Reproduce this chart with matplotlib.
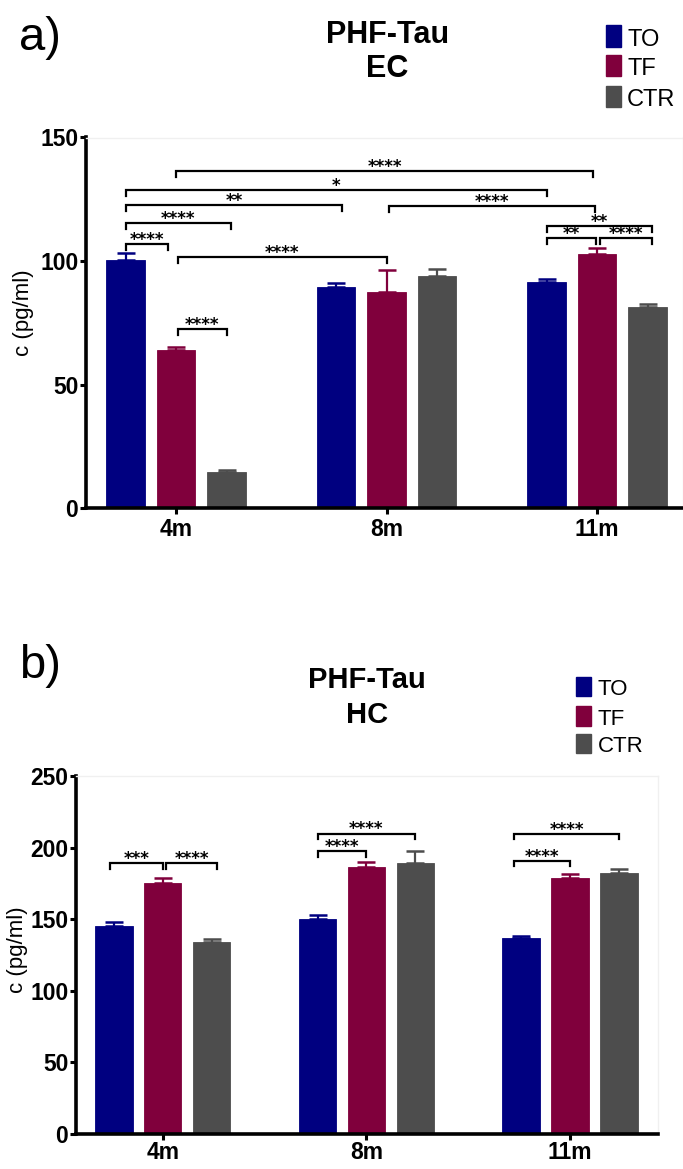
import numpy as np
import matplotlib
matplotlib.use("Agg")
import matplotlib.pyplot as plt
from matplotlib.patches import Rectangle

plt.rcParams['font.family'] = ['Liberation Sans', 'DejaVu Sans']

# ---------------- data ----------------
groups = ["4m", "8m", "11m"]
series = ["TO", "TF", "CTR"]

# Panel a) PHF-Tau EC
ec_to = [100.5, 89.3, 91.5]
ec_tf = [64.0, 87.4, 102.8]
ec_ctr = [14.4, 93.9, 81.3]
ec_to_sem = [2.6, 1.6, 1.2]
ec_tf_sem = [1.2, 9.0, 2.6]
ec_ctr_sem = [1.0, 3.0, 1.4]

# Panel b) PHF-Tau HC
hc_to = [145.6, 149.8, 137.2]
hc_tf = [175.0, 186.6, 178.8]
hc_ctr = [134.0, 188.9, 182.2]
hc_to_sem = [2.6, 3.4, 1.4]
hc_tf_sem = [3.8, 3.0, 2.7]
hc_ctr_sem = [2.1, 8.4, 2.6]

# significance comparisons: (group_a, series_a, group_b, series_b, level, label)
ec_comparisons = [
    (0, 0, 0, 1, 107.0, "****"),
    (0, 0, 0, 2, 115.3, "****"),
    (0, 0, 1, 0, 122.7, "**"),
    (0, 0, 2, 0, 128.7, "*"),
    (0, 1, 2, 1, 136.4, "****"),
    (1, 1, 2, 1, 122.1, "****"),
    (0, 1, 1, 1, 101.7, "****"),
    (0, 1, 0, 2, 72.6, "****"),
    (2, 0, 2, 1, 109.3, "**"),
    (2, 1, 2, 2, 109.3, "****"),
    (2, 0, 2, 2, 114.1, "**"),
]
hc_comparisons = [
    (0, 0, 0, 1, 189.0, "***"),
    (0, 1, 0, 2, 189.0, "****"),
    (1, 0, 1, 1, 197.3, "****"),
    (1, 0, 1, 2, 209.8, "****"),
    (2, 0, 2, 1, 190.6, "****"),
    (2, 0, 2, 2, 209.4, "****"),
]

# ---------------- style ----------------
colors = ["#000080", "#80003C", "#4D4D4D"]
offsets = [-0.24, 0.0, 0.24]
bar_w = 0.184
# small horizontal nudges of bracket ends where two brackets meet
ec_nudge = [(0, -0.04), (0, 0.02), (0, 0.03), (0, 0), (0, -0.02), (0.01, -0.01),
            (0.01, 0), (0.01, 0), (0, -0.005), (0.012, 0.02), (0, 0.02)]
hc_nudge = [(-0.017, 0.0), (0.015, 0.028), (0, 0), (0, 0), (-0.034, 0.0), (-0.034, 0.0)]

W, H = 683, 1169
fig = plt.figure(figsize=(W / 100, H / 100), dpi=100)


def fx(px):
    return px / W


def fy(py):
    return 1 - py / H


ax1 = fig.add_axes([fx(86), fy(508), fx(683) - fx(86), fy(137.5) - fy(508)])
ax2 = fig.add_axes([fx(76), fy(1134), fx(658) - fx(76), fy(776) - fy(1134)])


def draw_panel(ax, means, sems, comps, nudges, ymax, ystep, xlim, drop, xpad):
    x0 = np.arange(len(groups))
    for s in range(len(series)):
        x = x0 + offsets[s]
        ax.bar(x, means[s], bar_w, color=colors[s], zorder=2,
               edgecolor=colors[s], linewidth=0.6)
        ax.errorbar(x, means[s], yerr=[np.zeros(len(groups)), sems[s]],
                    fmt='none', ecolor=colors[s], elinewidth=1.6,
                    capsize=6.5, capthick=1.8, zorder=3)
    for (ga, sa, gb, sb, lev, lab), (da, db) in zip(comps, nudges):
        xa = ga + offsets[sa] + da
        xb = gb + offsets[sb] + db
        ax.plot([xa, xa, xb, xb], [lev - drop, lev, lev, lev - drop],
                color='black', lw=1.6, solid_joinstyle='miter', zorder=4,
                clip_on=False)
        ax.annotate(lab, ((xa + xb) / 2, lev), xytext=(0, -0.6),
                    textcoords='offset points', ha='center', va='baseline',
                    fontsize=12, fontweight='bold', family=['DejaVu Sans'],
                    zorder=5)
    ax.set_xlim(*xlim)
    ax.set_ylim(0, ymax)
    ax.set_yticks(np.arange(0, ymax + 1, ystep))
    ax.set_xticks(x0)
    ax.set_xticklabels(groups)
    for lbl in ax.get_xticklabels() + ax.get_yticklabels():
        lbl.set_fontweight('bold')
        lbl.set_fontsize(16.5)
    ax.tick_params(axis='y', length=4.5, width=2.2, pad=1.0)
    ax.tick_params(axis='x', length=4.0, width=2.2, pad=xpad)
    for sp in ['left', 'bottom']:
        ax.spines[sp].set_linewidth(2.6)
    for sp in ['top', 'right']:
        ax.spines[sp].set_linewidth(1.0)
        ax.spines[sp].set_color('#f0f0f0')
    ax.patch.set_alpha(0)


draw_panel(ax1, [ec_to, ec_tf, ec_ctr], [ec_to_sem, ec_tf_sem, ec_ctr_sem],
           ec_comparisons, ec_nudge, 150, 50, (-0.428, 2.408), 2.4, 3.0)
draw_panel(ax2, [hc_to, hc_tf, hc_ctr], [hc_to_sem, hc_tf_sem, hc_ctr_sem],
           hc_comparisons, hc_nudge, 250, 50, (-0.426, 2.432), 3.6, 1.0)

# y labels
fig.text(fx(24), fy(313), "c (pg/ml)", rotation=90, ha='center', va='center', fontsize=16)
fig.text(fx(17.5), fy(950), "c (pg/ml)", rotation=90, ha='center', va='center', fontsize=16)

# panel letters
fig.text(fx(19), fy(50), "a)", fontsize=34, ha='left', va='baseline')
fig.text(fx(19), fy(678), "b)", fontsize=34, ha='left', va='baseline')

# titles
fig.text(fx(387.5), fy(43.3), "PHF-Tau", fontsize=22, fontweight='bold', ha='center', va='baseline')
fig.text(fx(387.5), fy(76.7), "EC", fontsize=22, fontweight='bold', ha='center', va='baseline')
fig.text(fx(367), fy(688.3), "PHF-Tau", fontsize=21, fontweight='bold', ha='center', va='baseline')
fig.text(fx(367), fy(723.3), "HC", fontsize=21, fontweight='bold', ha='center', va='baseline')


# legends
def legend(x_sq, x_txt, tops, bottoms, size):
    for s in range(len(series)):
        fig.add_artist(Rectangle((fx(x_sq), fy(bottoms[s])), fx(15), fy(tops[s]) - fy(bottoms[s]),
                                 transform=fig.transFigure, color=colors[s]))
        fig.text(fx(x_txt), fy(bottoms[s] - 1), series[s], fontsize=size, ha='left', va='baseline')


legend(605.5, 627, [25, 55, 86], [46.7, 75.7, 106.7], 17)
legend(576, 598, [677, 705.8, 733.8], [696.3, 725.7, 753], 16)

fig.savefig("out.png", dpi=100)
